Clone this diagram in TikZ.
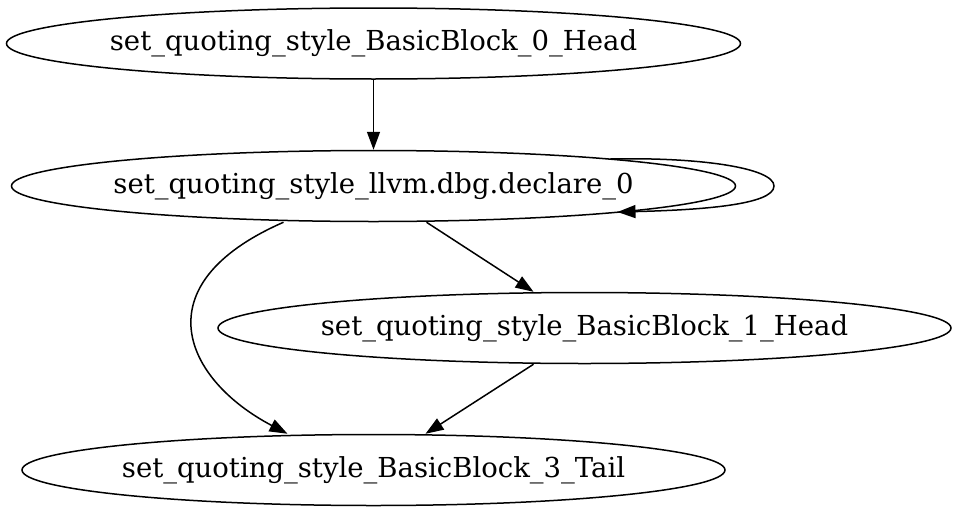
\documentclass[tikz,border=0pt]{standalone}
\usepackage{fontspec}
\setmainfont{DejaVu Serif}
\usetikzlibrary{arrows.meta,shapes.geometric,calc}
\newcommand{\lbltxt}[1]{\makebox[0pt][c]{#1}}
\begin{document}
\begin{tikzpicture}[x=1pt,y=-1pt,
  blk/.style={draw, ellipse, line width=1.5pt, inner sep=0pt, minimum height=71pt, font=\fontsize{27.5}{33}\selectfont},
  edge/.style={draw, line width=1.5pt, -{Triangle[length=18pt,width=13pt]}}]
\useasboundingbox (0,0) rectangle (960,514);
\node[blk, minimum width=734pt] (n1) at (373.5,43.5) {\lbltxt{set\_quoting\_style\_BasicBlock\_0\_Head}};
\node[blk, minimum width=724pt] (n2) at (373.5,186) {\lbltxt{set\_quoting\_style\_llvm.dbg.declare\_0}};
\node[blk, minimum width=733pt] (n3) at (584.5,328) {\lbltxt{set\_quoting\_style\_BasicBlock\_1\_Head}};
\node[blk, minimum width=703pt] (n4) at (373.5,470) {\lbltxt{set\_quoting\_style\_BasicBlock\_3\_Tail}};
\draw[edge] (n1.south) -- (n2.north);
\draw[edge] ($(n2.center)+(237,-27)$) .. controls (700,157) and (774,168) .. (774,186) .. controls (774,205) and (700,210) .. ($(n2.center)+(244,26)$);
\draw[edge] ([xshift=-90pt]n2.south) .. controls (140,285) and (185,380) .. ([xshift=-86pt]n4.north);
\draw[edge] ([xshift=53pt]n2.south) -- ([xshift=-51pt]n3.north);
\draw[edge] ([xshift=-51pt]n3.south) -- ([xshift=52pt]n4.north);
\end{tikzpicture}
\end{document}
